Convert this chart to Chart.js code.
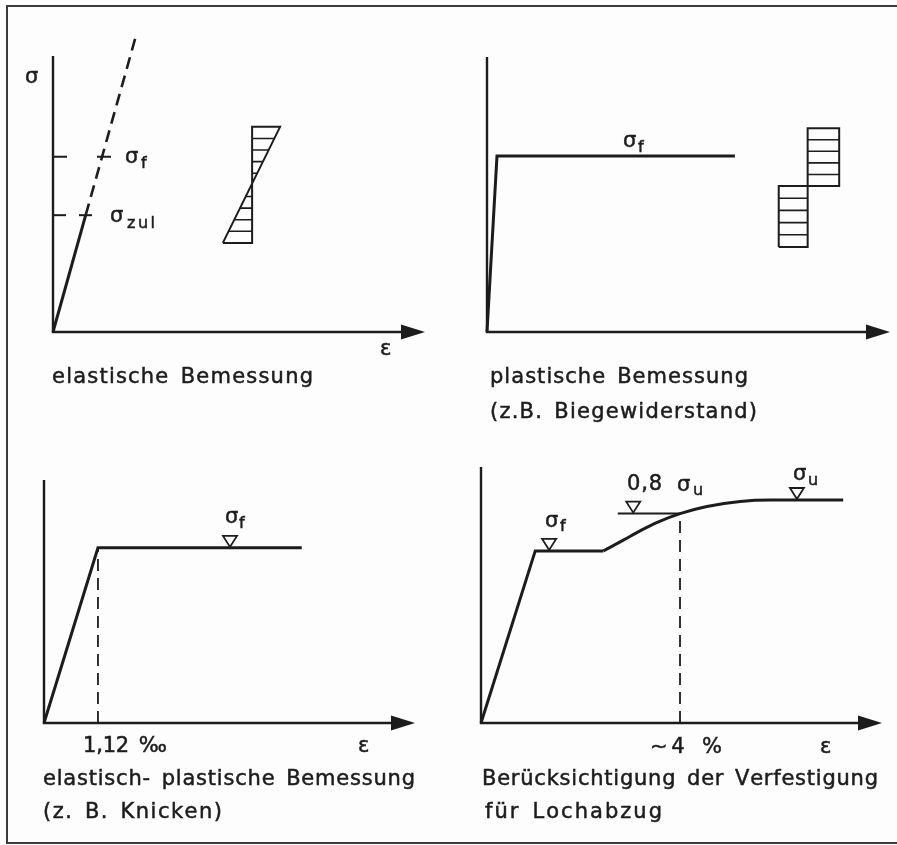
<!DOCTYPE html>
<html>
<head>
<meta charset="utf-8">
<script src="https://cdn.jsdelivr.net/npm/chart.js@4"></script>
<style>
  html, body { margin: 0; padding: 0; background: #fff; }
  #page { position: relative; width: 897px; height: 845px; overflow: hidden; background: #fdfdfd; }
  #frame { position: absolute; left: 6px; top: 5px; width: 900px; height: 835px;
           border: 2px solid #3c3c3c; border-right: none; }
  canvas { position: absolute; }
</style>
</head>
<body>
<div id="page">
  <div id="frame"></div>
  <canvas id="p1" width="448" height="430" style="left:0;top:0"></canvas>
  <canvas id="p2" width="449" height="430" style="left:448px;top:0"></canvas>
  <canvas id="p3" width="448" height="415" style="left:0;top:430px"></canvas>
  <canvas id="p4" width="449" height="415" style="left:448px;top:430px"></canvas>
</div>
<script>
// eps in per mille (panel 4 in percent), sigma in N/mm2 (schematic)

// elastische Bemessung
const elSolidEps = [0, 0.76];
const elSolidSig = [0, 160];
const elDashEps = [0.76, 1.95];
const elDashSig = [160, 410];
const elLevelSig = [160, 240];        // sigma_zul, sigma_f
const elLevelEnd = [0.91, 1.37];
const elBlockEps = [3.95, 4.63, 4.63, 5.28, 3.95];
const elBlockSig = [122, 122, 281, 281, 122];

// plastische Bemessung
const plEps = [0, 1.14, 28.3];
const plSig = [0, 240, 240];
const plUpperEps = [36.6, 40.2];
const plUpperSig = [199, 278];
const plLowerEps = [33.3, 36.6];
const plLowerSig = [116, 199];

// elastisch-plastische Bemessung
const epEps = [0, 1.12, 5.35];
const epSig = [0, 240, 240];
const epMarkEps = [3.86];
const epMarkSig = [240];

// Verfestigung (eps in %)
const vfLineEps = [0, 1.09, 2.46];
const vfLineSig = [0, 240, 240];
const vfCurveEps = [2.46, 2.86, 3.20, 3.53, 4.0, 4.54, 5.21, 5.81, 7.28];
const vfCurveSig = [240, 255, 268, 279.5, 292, 302, 309, 311, 311];
const vfLevelEps = [2.75, 4.0];
const vfLevelSig = 292;               // 0,8 sigma_u
const vfMarkEps = [1.37, 3.06, 6.35];
const vfMarkSig = [240, 292, 311];

const ink = '#1c1c1c';
const FONT = '"DejaVu Sans", sans-serif';

function pts(xs, ys) {
  return xs.map((x, i) => ({ x: x, y: Array.isArray(ys) ? ys[i] : ys }));
}

function line(data, extra) {
  return Object.assign({
    data: data, showLine: true, borderColor: ink, borderWidth: 3,
    pointRadius: 0, clip: false, tension: 0, fill: false
  }, extra || {});
}

// hatch lines between two edges, separated by gaps
function hatch(levels, xLeft, xRight) {
  const out = [];
  levels.forEach(y => {
    out.push({ x: xLeft(y), y: y }, { x: xRight(y), y: y }, { x: xLeft(y), y: null });
  });
  return out;
}

function steps(lo, hi, n) {
  const r = [];
  for (let i = 1; i < n; i++) r.push(lo + (hi - lo) * i / n);
  return r;
}

function rectOutline(xs, ys) {
  return pts([xs[0], xs[1], xs[1], xs[0], xs[0]], [ys[0], ys[0], ys[1], ys[1], ys[0]]);
}

function spaced(ctx, text, x, y, w) {
  const chars = [...text];
  const widths = chars.map(c => ctx.measureText(c).width * (c === ' ' ? 1.5 : 1));
  const natural = widths.reduce((a, b) => a + b, 0);
  const gap = chars.length > 1 ? (w - natural) / (chars.length - 1) : 0;
  let cx = x;
  chars.forEach((c, i) => {
    ctx.strokeText(c, cx, y);
    ctx.fillText(c, cx, y);
    cx += widths[i] + gap;
  });
}

function sketchPlugin(marks, texts) {
  return {
    id: 'sketch',
    beforeDatasetsDraw(chart) {
      const ctx = chart.ctx, a = chart.chartArea;
      ctx.save();
      ctx.strokeStyle = ink;
      ctx.fillStyle = ink;
      ctx.lineWidth = 2.4;
      ctx.beginPath();
      ctx.moveTo(a.left, a.top);
      ctx.lineTo(a.left, a.bottom);
      ctx.lineTo(a.right - 20, a.bottom);
      ctx.stroke();
      ctx.beginPath();
      ctx.moveTo(a.right, a.bottom);
      ctx.lineTo(a.right - 24, a.bottom - 7.5);
      ctx.lineTo(a.right - 24, a.bottom + 7.5);
      ctx.closePath();
      ctx.fill();
      ctx.restore();
    },
    afterDatasetsDraw(chart) {
      const ctx = chart.ctx;
      const xs = chart.scales.x, ys = chart.scales.y;
      ctx.save();
      // open triangles, tip on the curve
      ctx.lineWidth = 1.8;
      ctx.strokeStyle = ink;
      marks.forEach(m => {
        const px = xs.getPixelForValue(m.x), py = ys.getPixelForValue(m.y) - 1;
        ctx.beginPath();
        ctx.moveTo(px, py);
        ctx.lineTo(px - 7, py - 11);
        ctx.lineTo(px + 7, py - 11);
        ctx.closePath();
        ctx.fillStyle = '#fdfdfd';
        ctx.fill();
        ctx.stroke();
      });
      ctx.fillStyle = ink;
      ctx.strokeStyle = ink;
      ctx.lineWidth = 0.5;
      ctx.textBaseline = 'alphabetic';
      texts.forEach(t => {
        ctx.font = (t.s || 21) + 'px ' + FONT;
        if (t.w) spaced(ctx, t.t, t.x, t.y, t.w);
        else { ctx.strokeText(t.t, t.x, t.y); ctx.fillText(t.t, t.x, t.y); }
      });
      ctx.restore();
    }
  };
}

function makeChart(id, pad, xMax, yMax, datasets, marks, texts) {
  return new Chart(document.getElementById(id), {
    type: 'scatter',
    data: { datasets: datasets },
    options: {
      responsive: false,
      animation: false,
      events: [],
      layout: { padding: pad },
      plugins: { legend: { display: false }, tooltip: { enabled: false } },
      scales: {
        x: { type: 'linear', display: false, min: 0, max: xMax },
        y: { type: 'linear', display: false, min: 0, max: yMax }
      }
    },
    plugins: [sketchPlugin(marks, texts)]
  });
}

// Panel 1
const elDiag = y => elBlockEps[4] + (y - elBlockSig[0]) / (elBlockSig[2] - elBlockSig[0]) * (elBlockEps[3] - elBlockEps[0]);
makeChart('p1', { left: 53, top: 56, right: 23, bottom: 98 }, 8.65, 378, [
  line(pts(elSolidEps, elSolidSig)),
  line(pts(elDashEps, elDashSig), { borderWidth: 2.6, borderDash: [12, 7] }),
  line(pts([0, elLevelEnd[1]], elLevelSig[1]), { borderWidth: 2, borderDash: [14, 30] }),
  line(pts([0, elLevelEnd[0]], elLevelSig[0]), { borderWidth: 2, borderDash: [13, 13] }),
  line(pts(elBlockEps, elBlockSig), { borderWidth: 2 }),
  line(hatch(steps(elBlockSig[0], elBlockSig[2], 10), () => elBlockEps[1], elDiag), { borderWidth: 1.6 })
], [], [
  { t: 'σ', x: 25, y: 83 },
  { t: 'ε', x: 380, y: 355 },
  { t: 'σ', x: 125, y: 163 }, { t: 'f', x: 141, y: 168, s: 16 },
  { t: 'σ', x: 110, y: 222 }, { t: 'zul', x: 127, y: 228, s: 16, w: 28 },
  { t: 'elastische Bemessung', x: 52, y: 383, w: 261 }
]);

// Panel 2
makeChart('p2', { left: 39, top: 57, right: 7, bottom: 98 }, 46, 375, [
  line(pts(plEps, plSig)),
  line(rectOutline(plUpperEps, plUpperSig), { borderWidth: 2 }),
  line(rectOutline(plLowerEps, plLowerSig), { borderWidth: 2 }),
  line(hatch(steps(plUpperSig[0], plUpperSig[1], 5), () => plUpperEps[0], () => plUpperEps[1]), { borderWidth: 1.6 }),
  line(hatch(steps(plLowerSig[0], plLowerSig[1], 5), () => plLowerEps[0], () => plLowerEps[1]), { borderWidth: 1.6 })
], [], [
  { t: 'σ', x: 175, y: 147 }, { t: 'f', x: 190, y: 152, s: 16 },
  { t: 'plastische Bemessung', x: 42, y: 383, w: 258 },
  { t: '(z.B. Biegewiderstand)', x: 42, y: 418, w: 267 }
]);

// Panel 3
makeChart('p3', { left: 44, top: 50, right: 33, bottom: 122 }, 7.7, 333, [
  line(pts(epEps, epSig)),
  line(pts([epEps[1], epEps[1]], [0, epSig[1]]), { borderWidth: 1.8, borderDash: [12, 7] })
], pts(epMarkEps, epMarkSig), [
  { t: 'σ', x: 225, y: 93 }, { t: 'f', x: 239, y: 98, s: 16 },
  { t: '1,12 ‰', x: 83, y: 322, w: 84 },
  { t: 'ε', x: 358, y: 322 },
  { t: 'elastisch- plastische Bemessung', x: 43, y: 355, w: 372 },
  { t: '(z. B. Knicken)', x: 43, y: 388, w: 179 }
]);

// Panel 4
makeChart('p4', { left: 33, top: 37, right: 15, bottom: 122 }, 8.06, 357, [
  line(pts(vfLineEps, vfLineSig)),
  line(pts(vfCurveEps, vfCurveSig), { cubicInterpolationMode: 'monotone' }),
  line(pts(vfLevelEps, vfLevelSig), { borderWidth: 2 }),
  line(pts([vfLevelEps[1], vfLevelEps[1]], [0, vfLevelSig]), { borderWidth: 1.8, borderDash: [12, 7] })
], pts(vfMarkEps, vfMarkSig), [
  { t: 'σ', x: 97, y: 97 }, { t: 'f', x: 112, y: 101, s: 16 },
  { t: '0,8', x: 179, y: 60, w: 35 }, { t: 'σ', x: 229, y: 61 }, { t: 'u', x: 245, y: 65, s: 16 },
  { t: 'σ', x: 345, y: 50 }, { t: 'u', x: 360, y: 55, s: 16 },
  { t: '∼4 %', x: 202, y: 323, w: 72 },
  { t: 'ε', x: 372, y: 323 },
  { t: 'Berücksichtigung der Verfestigung', x: 34, y: 355, w: 396 },
  { t: 'für Lochabzug', x: 37, y: 388, w: 177 }
]);
</script>
</body>
</html>
